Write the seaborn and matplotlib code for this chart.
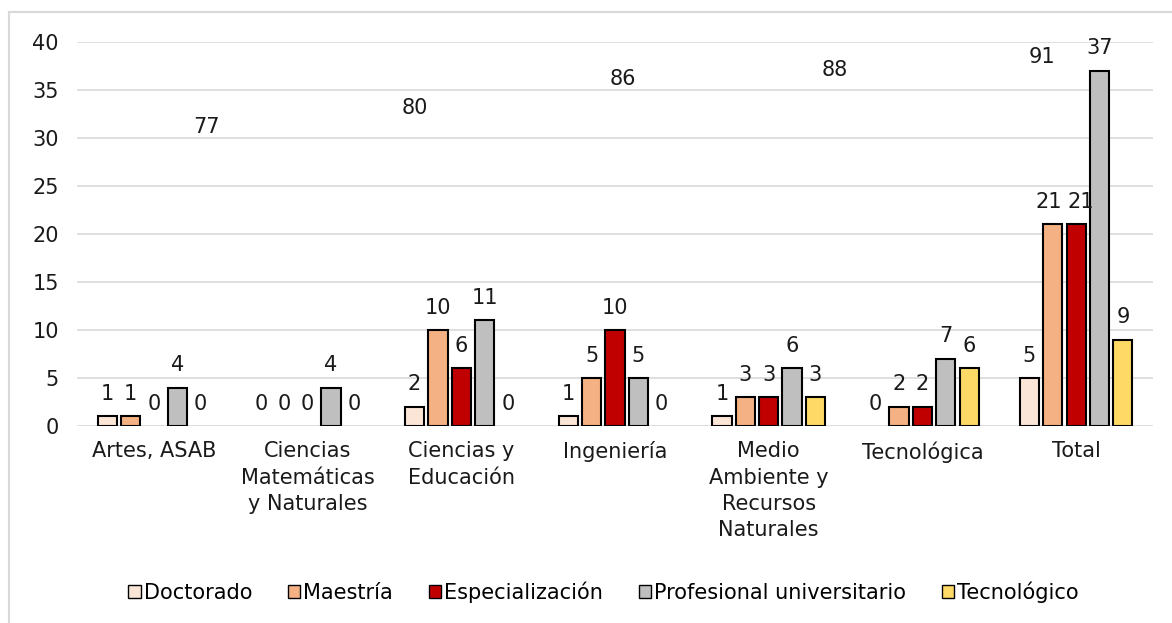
import pandas as pd
import numpy as np
import matplotlib.pyplot as plt
import seaborn as sns
from matplotlib.lines import Line2D
from matplotlib.patches import Patch

# datos por facultad
categorias = ['Artes, ASAB', 'Ciencias\nMatemáticas\ny Naturales', 'Ciencias y\nEducación',
              'Ingeniería', 'Medio\nAmbiente y\nRecursos\nNaturales', 'Tecnológica', 'Total']
niveles = ['Doctorado', 'Maestría', 'Especialización', 'Profesional universitario', 'Tecnológico']
doctorado = [1, 0, 2, 1, 1, 0, 5]
maestria = [1, 0, 10, 5, 3, 2, 21]
especializacion = [0, 0, 6, 10, 3, 2, 21]
profesional = [4, 4, 11, 5, 6, 7, 37]
tecnologico = [0, 0, 0, 0, 3, 6, 9]
colores = ['#FBE5D6', '#F4B183', '#C00000', '#BFBFBF', '#FFD966']

# etiquetas sueltas que aparecen en el gráfico original
etiquetas_sueltas = ['77', '80', '86', '88', '91']
pos_sueltas = [(0.345, 31.1), (1.70, 33.1), (3.05, 36.1), (4.43, 37.1), (5.78, 38.4)]

series = [doctorado, maestria, especializacion, profesional, tecnologico]
filas = []
for nivel, vals in zip(niveles, series):
    for cat, v in zip(categorias, vals):
        filas.append({'Facultad': cat, 'Nivel': nivel, 'Valor': v})
df = pd.DataFrame(filas)

fs = 15
plt.rcParams['font.family'] = ['DejaVu Sans']
fig = plt.figure(figsize=(11.72, 6.23), dpi=100)
ax = fig.add_axes([77 / 1172, 1 - 426 / 623, (1153 - 77) / 1172, (426 - 42) / 623])

sns.barplot(data=df, x='Facultad', y='Valor', hue='Nivel', palette=colores,
            saturation=1, width=0.76, gap=0.18, edgecolor='black', linewidth=1.5,
            ax=ax, legend=False, zorder=3)

# las barras en cero no se dibujan
for p in ax.patches:
    if p.get_height() == 0:
        p.set_linewidth(0)

etiquetas = []
for cont in ax.containers:
    etiquetas.append(ax.bar_label(cont, padding=9, fontsize=fs, color='#1a1a1a'))

# separar un poco los dos "21" del Total, que se tocan
etiquetas[1][-1].xyann = (-3, 9)
etiquetas[2][-1].xyann = (3, 9)

for txt, (x, y) in zip(etiquetas_sueltas, pos_sueltas):
    ax.text(x, y, txt, ha='center', va='center', fontsize=fs, color='#1a1a1a')

ax.set_ylim(0, 40)
ax.set_yticks(range(0, 41, 5))
ax.set_xlim(-0.5, len(categorias) - 0.5)
ax.grid(axis='y', color='#d9d9d9', linewidth=1.2, zorder=0)
ax.set_axisbelow(True)
for s in ax.spines.values():
    s.set_visible(False)
ax.tick_params(axis='both', length=0, labelsize=fs, colors='#1a1a1a')
ax.tick_params(axis='y', pad=13)
ax.tick_params(axis='x', pad=11)
for lab in ax.get_xticklabels():
    lab.set_linespacing(1.4)
ax.set_xlabel('')
ax.set_ylabel('')

handles = [Patch(facecolor=c, edgecolor='black', linewidth=1.0) for c in colores]
fig.legend(handles, niveles, loc='center', bbox_to_anchor=(0.515, 0.05), ncol=5,
           frameon=False, fontsize=fs, handlelength=0.6, handleheight=0.6,
           handletextpad=0.15, columnspacing=1.7)

# borde del área del gráfico (solo se ven arriba e izquierda)
fig.add_artist(Line2D([8.5 / 1172, 8.5 / 1172], [0, 1 - 12 / 623], color='#d9d9d9', linewidth=1.5))
fig.add_artist(Line2D([8.5 / 1172, 1], [1 - 12 / 623, 1 - 12 / 623], color='#d9d9d9', linewidth=1.5))

fig.savefig('out.png', dpi=100)
